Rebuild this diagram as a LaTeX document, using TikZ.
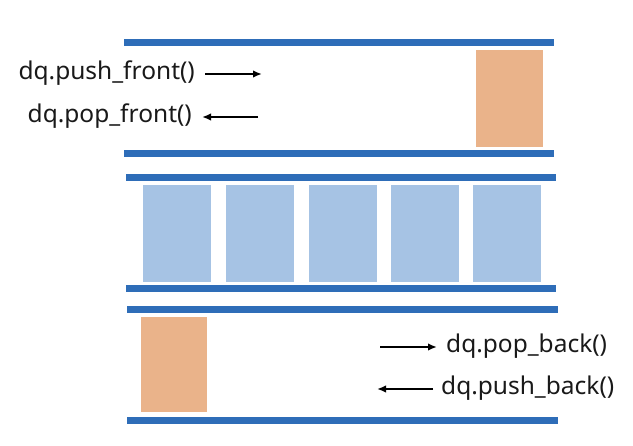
\documentclass[tikz,border=0pt]{standalone}
\usepackage{fontspec}
\setmainfont{Noto Sans}
\usetikzlibrary{arrows.meta}
\definecolor{barblue}{HTML}{2E6DB8}
\definecolor{cellblue}{HTML}{A6C3E4}
\definecolor{cellorange}{HTML}{EAB38A}
\begin{document}
\begin{tikzpicture}[x=1pt,y=-1pt,
  bar/.style={fill=barblue,draw=none},
  cell/.style={fill=cellblue,draw=none},
  ocell/.style={fill=cellorange,draw=none},
  lbl/.style={font=\fontsize{24.5}{27}\selectfont,inner sep=0pt,text=black!90},
  arr/.style={-{Latex[length=9pt,width=7.5pt]},line width=2.2pt,black}]
\useasboundingbox (0,0) rectangle (633,446);
% top section
\fill[bar] (124,39) rectangle (554,46);
\fill[bar] (124,150) rectangle (554,157);
\fill[ocell] (476,50) rectangle (543,147);
% middle section
\fill[bar] (126,174) rectangle (556,181);
\fill[bar] (126,285) rectangle (556,292);
\foreach \xa in {143,226,309,391,473}
  \fill[cell] (\xa,185) rectangle ++(68,97);
% bottom section
\fill[bar] (127,306) rectangle (558,313);
\fill[bar] (127,417) rectangle (558,424);
\fill[ocell] (141,317) rectangle (207,412);
% labels
\node[lbl,anchor=east] (pf) at (195,73) {dq.push\_front()};
\node[lbl,anchor=east] (pof) at (192,116) {dq.pop\_front()};
\node[lbl,anchor=west] (pb) at (446,346) {dq.pop\_back()};
\node[lbl,anchor=west] (pub) at (441,388) {dq.push\_back()};
\coordinate (a1s) at (205,74); \coordinate (a1e) at (262,74);
\coordinate (a2s) at (258,117); \coordinate (a2e) at (202,117);
\coordinate (a3s) at (380,347); \coordinate (a3e) at (437,347);
\coordinate (a4s) at (433,389); \coordinate (a4e) at (377,389);
\draw[arr] (a1s) -- (a1e);
\draw[arr] (a2s) -- (a2e);
\draw[arr] (a3s) -- (a3e);
\draw[arr] (a4s) -- (a4e);
\end{tikzpicture}
\end{document}
